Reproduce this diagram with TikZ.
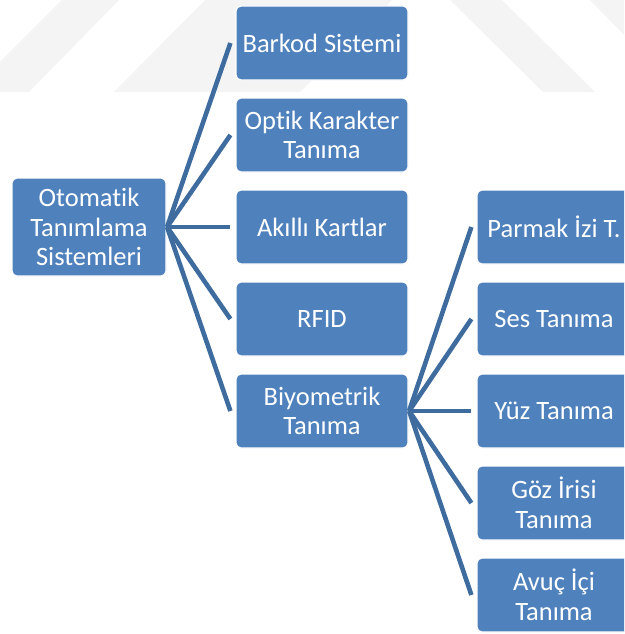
\documentclass[tikz,border=0pt]{standalone}
\usepackage{fontspec}
\setmainfont{Carlito}[Ligatures={NoCommon}]
\definecolor{boxblue}{HTML}{4F81BD}
\definecolor{lineblue}{HTML}{3F6C9F}
\definecolor{wmgray}{HTML}{F4F4F4}
\tikzset{
  box/.style={rectangle, rounded corners=5pt, fill=boxblue, draw=white, line width=1.2pt,
    text=white, align=center, inner sep=0pt,
    font=\fontsize{26.5}{29.5}\selectfont},
  midbox/.style={box, minimum width=172pt, minimum height=74pt},
  rbox/.style={box, minimum width=154pt, minimum height=74pt},
  conn/.style={draw=lineblue, line width=4.6pt},
  wm/.style={fill=wmgray, draw=none}
}
\begin{document}
\begin{tikzpicture}[x=1pt,y=-1pt]
\useasboundingbox (0,0) rectangle (624,634);
\clip (0,0) rectangle (624,634);
% faint watermark
\fill[wm] (0,62) -- (0,92) -- (29,92) -- (119,0) -- (62,0) -- cycle;
\fill[wm] (114,92) -- (300,92) -- (392,0) -- (205,0) -- cycle;
\fill[wm] (450,0) -- (502,0) -- (595,92) -- (543,92) -- cycle;
\fill[wm] (590,0) -- (624,0) -- (624,35) -- cycle;
% root
\node[box, minimum width=154pt, minimum height=98pt] (root) at (89,227) {Otomatik\\Tanımlama\\Sistemleri};
% middle column
\node[midbox] (m1) at (322,43) {Barkod Sistemi};
\node[midbox] (m2) at (322,135) {Optik Karakter\\Tanıma};
\node[midbox] (m3) at (322,227) {Akıllı Kartlar};
\node[midbox] (m4) at (322,319) {RFID};
\node[midbox] (m5) at (322,411) {Biyometrik\\Tanıma};
% right column
\node[rbox] (r1) at (554,227) {Parmak İzi T.};
\node[rbox] (r2) at (554,319) {Ses Tanıma};
\node[rbox] (r3) at (554,411) {Yüz Tanıma};
\node[rbox] (r4) at (554,503) {Göz İrisi\\Tanıma};
\node[rbox] (r5) at (554,595) {Avuç İçi\\Tanıma};
% connectors
\foreach \m in {m1,m2,m3,m4,m5}
  \draw[conn] ([xshift=0.5pt]root.east) -- ([xshift=-5pt]\m.west);
\foreach \r in {r1,r2,r3,r4,r5}
  \draw[conn] ([xshift=0.5pt]m5.east) -- ([xshift=-5pt]\r.west);
\end{tikzpicture}
\end{document}
